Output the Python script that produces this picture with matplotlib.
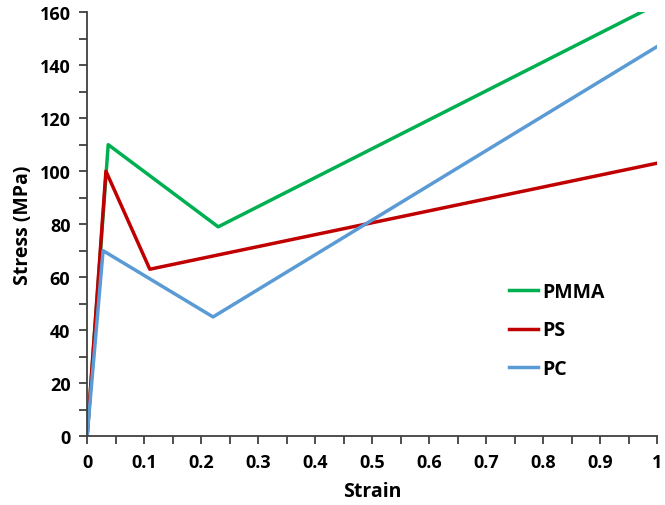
import matplotlib
matplotlib.use("Agg")
import matplotlib.pyplot as plt
from matplotlib.ticker import MultipleLocator

# Кривые "напряжение - деформация" для трёх полимеров
pmma_strain = [0, 0.037, 0.23, 1.0]
pmma_stress = [0, 110, 79, 163]

ps_strain = [0, 0.033, 0.11, 1.0]
ps_stress = [0, 100, 63, 103]

pc_strain = [0, 0.028, 0.221, 1.0]
pc_stress = [0, 70, 45, 147]

x_labels = ["0", "0.1", "0.2", "0.3", "0.4", "0.5", "0.6", "0.7", "0.8", "0.9", "1"]

plt.rcParams["font.family"] = ["Open Sans", "DejaVu Sans"]
plt.rcParams["font.weight"] = "bold"

fig = plt.figure(figsize=(6.65, 5.06), dpi=100)
ax = fig.add_axes([0.131, 0.136, 0.857, 0.838])

lw = 2.5
ax.plot(pmma_strain, pmma_stress, color="#00B050", lw=lw, label="PMMA")
ax.plot(ps_strain, ps_stress, color="#C00000", lw=lw, label="PS")
ax.plot(pc_strain, pc_stress, color="#5B9BD5", lw=lw, label="PC")

ax.set_xlim(0, 1)
ax.set_ylim(0, 160)
ax.xaxis.set_minor_locator(MultipleLocator(0.05))
ax.yaxis.set_major_locator(MultipleLocator(20))
ax.yaxis.set_minor_locator(MultipleLocator(10))
ax.set_xticks([i / 10 for i in range(11)])
ax.set_xticklabels(x_labels)

for s in ["top", "right"]:
    ax.spines[s].set_visible(False)
for s in ["left", "bottom"]:
    ax.spines[s].set_linewidth(1.3)
    ax.spines[s].set_color("#404040")

ax.tick_params(which="both", direction="out", color="#404040", width=1.3,
               length=6, labelsize=13, pad=6)
for lab in ax.get_xticklabels() + ax.get_yticklabels():
    lab.set_fontweight("bold")

ax.set_xlabel("Strain", fontsize=14, fontweight="bold", labelpad=7)
ax.set_ylabel("Stress (MPa)", fontsize=14, fontweight="bold", labelpad=5)

ax.legend(loc="upper left", bbox_to_anchor=(0.71, 0.405), frameon=False,
          handlelength=1.5, handletextpad=0.2, labelspacing=0.95,
          prop={"weight": "bold", "size": 14})

fig.savefig("out.png", dpi=100)
